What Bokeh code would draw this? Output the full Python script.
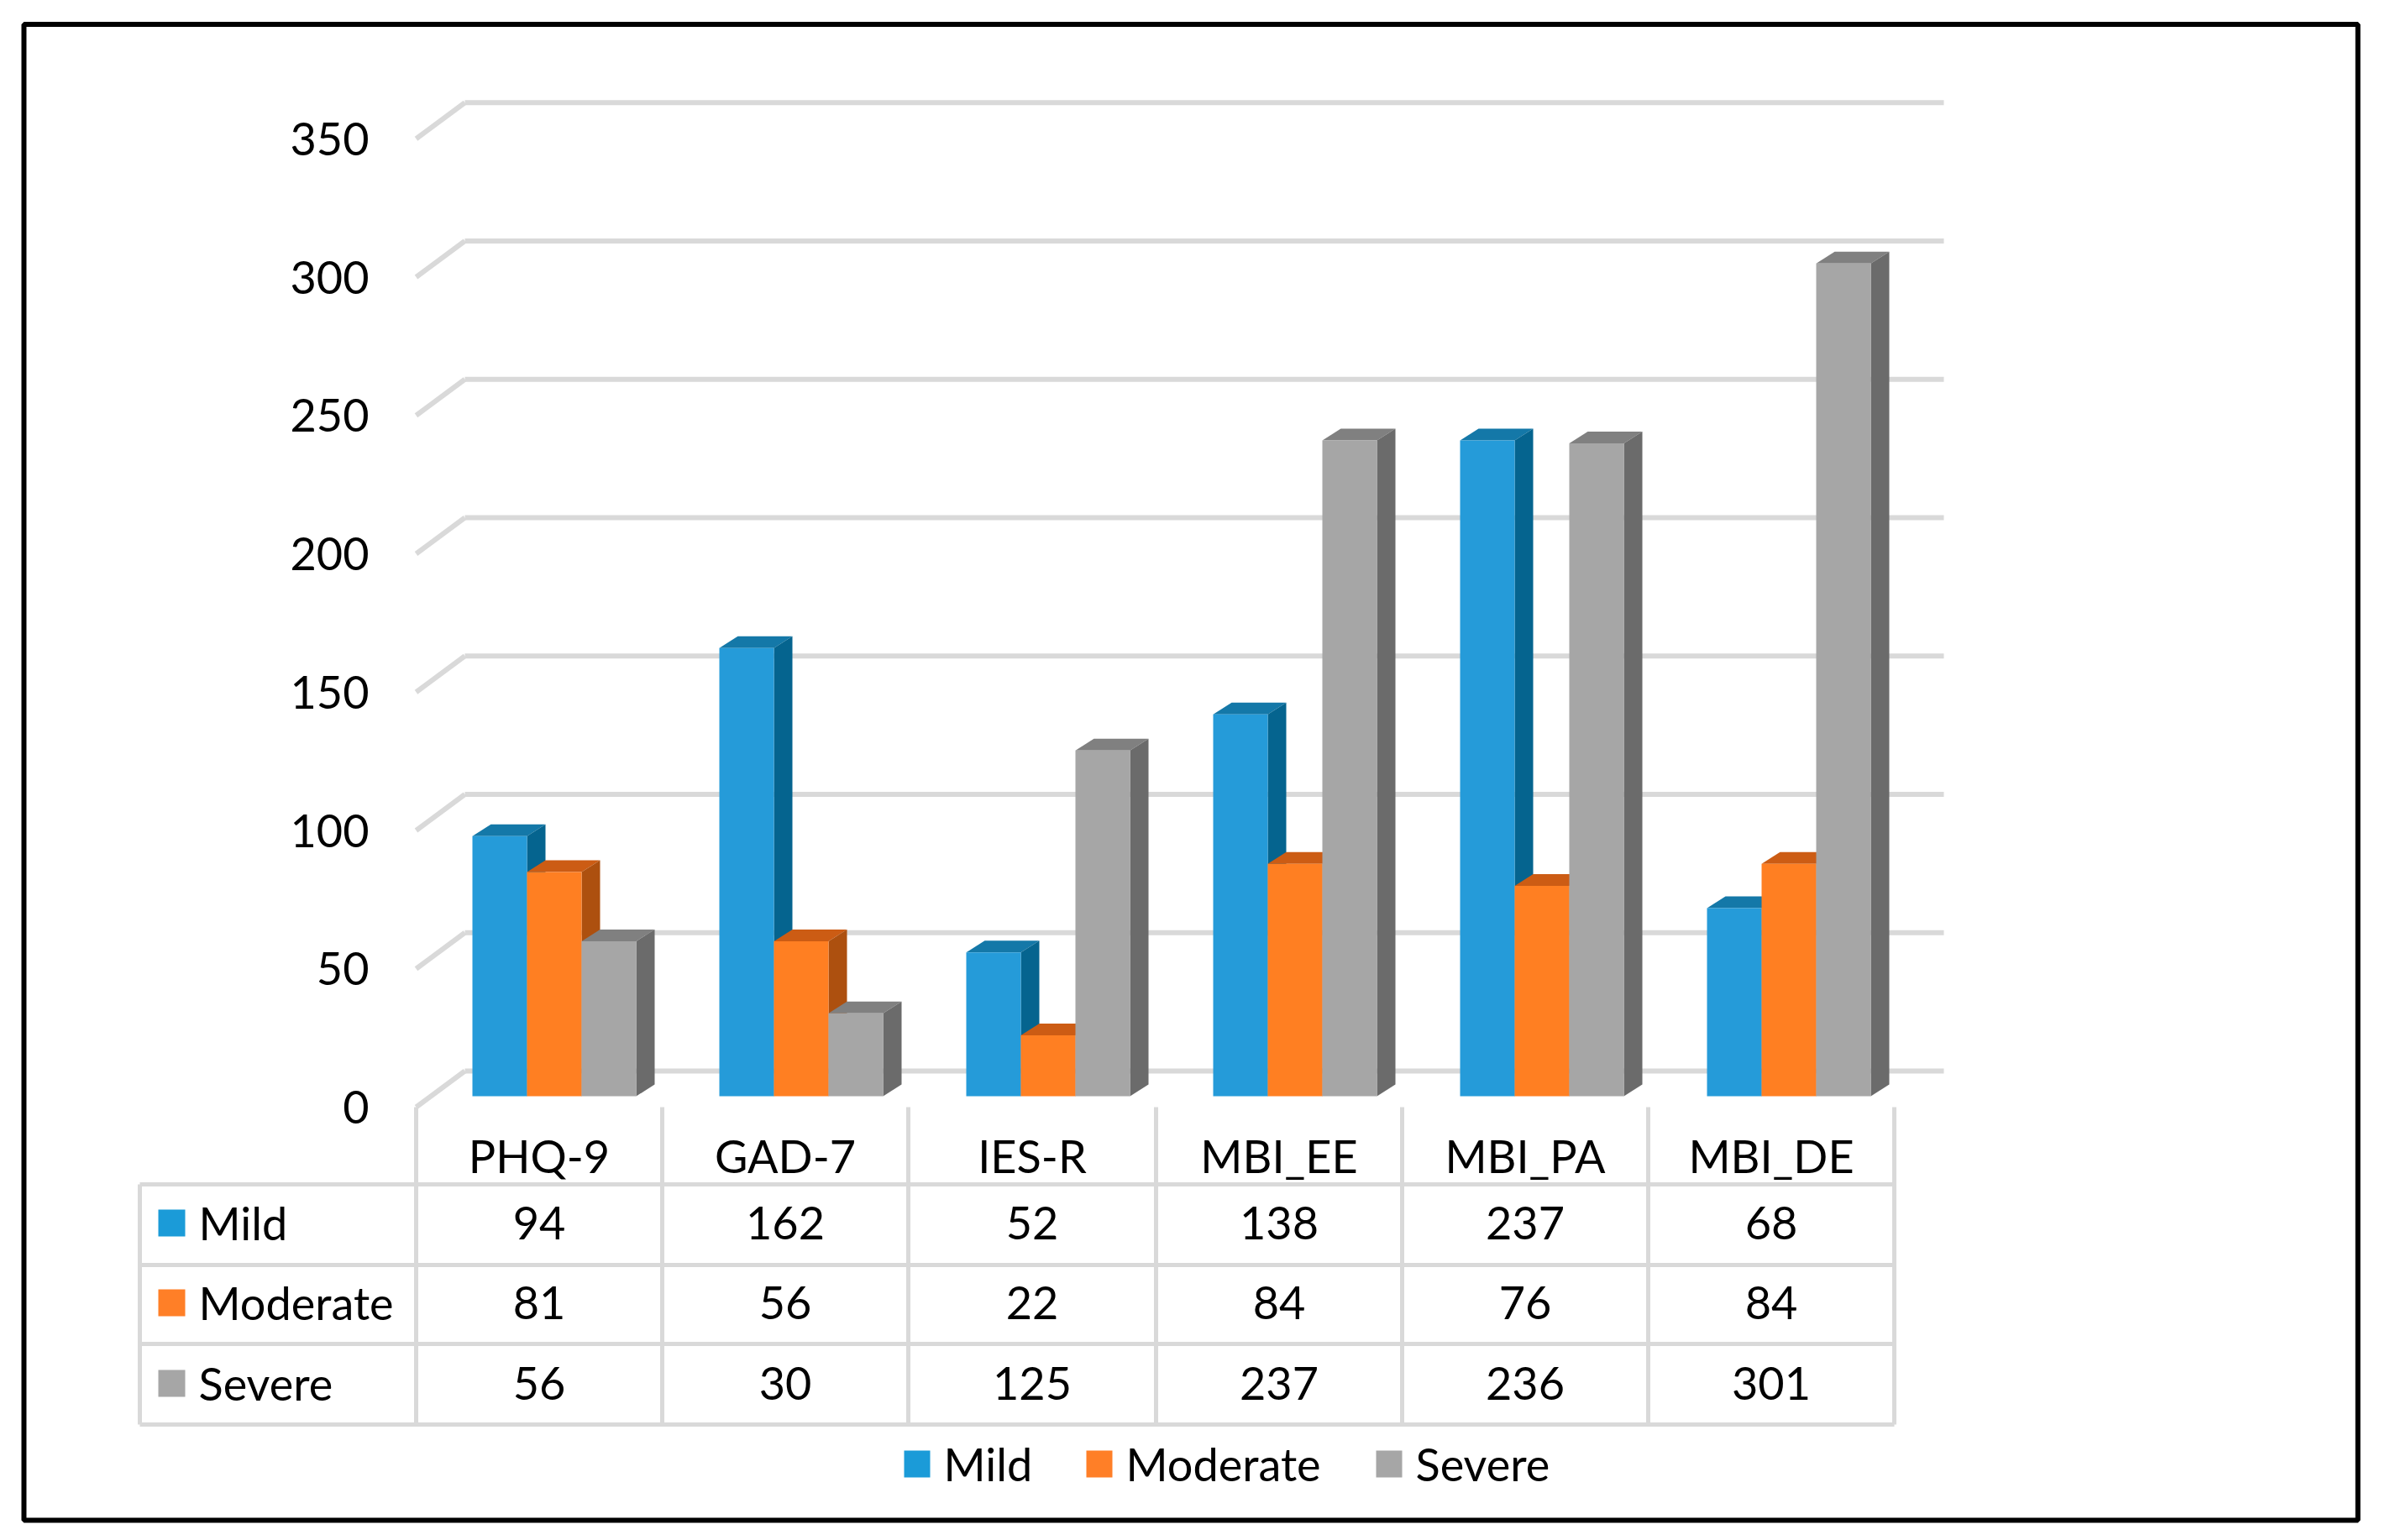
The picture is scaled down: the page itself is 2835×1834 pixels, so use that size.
from bokeh.plotting import figure
from bokeh.models import LinearAxis, Range1d, FixedTicker
from bokeh.core.properties import value
from bokeh.embed import file_html
from bokeh.resources import INLINE

categories = ["PHQ-9", "GAD-7", "IES-R", "MBI_EE", "MBI_PA", "MBI_DE"]
mild = [94, 162, 52, 138, 237, 68]
moderate = [81, 56, 22, 84, 76, 84]
severe = [56, 30, 125, 237, 236, 301]
series_names = ["Mild", "Moderate", "Severe"]
y_ticks = [0, 50, 100, 150, 200, 250, 300, 350]

FONT = value("Lato")
FS = "54px"
GRID = "#D9D9D9"
front = ["#259BD9", "#FF7F22", "#A6A6A6"]
side = ["#05648F", "#AD500F", "#6B6B6B"]
top = ["#1478A8", "#CC5C14", "#808080"]
swatch = ["#1B9BD8", "#FF7F27", "#A6A6A6"]

U = 3.295          # page px per value unit
ZERO = 1305        # page y of bar baseline
WALL_ZERO = 1318   # page y of axis zero
BACK_ZERO = 1275   # page y of back-wall zero
DX, DY = 22, 14
TOP_PAGE, BOT_PAGE = 0, 1818

p = figure(width=2819, height=1818, output_backend="svg", toolbar_location=None,
           x_range=Range1d(0, 2819),
           y_range=Range1d(-(BOT_PAGE - ZERO) / U, (ZERO - TOP_PAGE) / U),
           x_axis_type=None, y_axis_type=None,
           min_border=0, min_border_left=0, min_border_right=0, min_border_top=0, min_border_bottom=0,
           background_fill_color="white", border_fill_color="white", outline_line_color=None)
p.grid.visible = False
p.extra_y_ranges["page"] = Range1d(BOT_PAGE, TOP_PAGE)
p.extra_y_ranges["wall"] = Range1d(-(BOT_PAGE - WALL_ZERO) / U, (WALL_ZERO - TOP_PAGE) / U)

# Outer frame
p.quad(left=[28], right=[2807], top=[28.5], bottom=[1810], fill_color=None,
       line_color="#000000", line_width=6, y_range_name="page")

# Back-wall gridlines and their diagonals
WX0, WX1, WX_FRONT = 553, 2314, 495
back = [t + (ZERO - BACK_ZERO) / U for t in y_ticks]
fr = [t + (ZERO - WALL_ZERO) / U for t in y_ticks]
p.segment(x0=[WX0] * len(back), x1=[WX1] * len(back), y0=back, y1=back,
          line_color=GRID, line_width=6)
p.segment(x0=[WX_FRONT] * len(back), x1=[WX0] * len(back), y0=fr, y1=back,
          line_color=GRID, line_width=6)

# Bars
BAR0, STEP, BW = 562, 294.0, 65.0
for s, vals in enumerate([mild, moderate, severe]):
    ls = [BAR0 + i * STEP + s * BW for i in range(len(vals))]
    rs = [l + BW for l in ls]
    d = DY / U
    p.patches(xs=[[l, r, r + DX, l + DX] for l, r in zip(ls, rs)],
              ys=[[v, v, v + d, v + d] for v in vals],
              fill_color=top[s], line_color=None)
    p.patches(xs=[[r, r + DX, r + DX, r] for r in rs],
              ys=[[0, d, v + d, v] for v in vals],
              fill_color=side[s], line_color=None)
    p.quad(left=ls, right=rs, bottom=[0] * len(vals), top=vals,
           fill_color=front[s], line_color=None)

# Value axis (real axis, fixed in data space)
ax = LinearAxis(y_range_name="wall", fixed_location=455, ticker=FixedTicker(ticks=y_ticks),
                axis_line_color=None, major_tick_line_color=None, minor_tick_line_color=None,
                major_label_standoff=10, major_label_text_font="Lato",
                major_label_text_font_size=FS, major_label_text_color="#000000")
p.add_layout(ax, "left")

# Data table
COLX = [495, 788, 1081, 1376, 1669, 1962, 2255]
ROWY = [1410, 1506, 1600, 1696]
TLEFT = 166
p.segment(x0=COLX, x1=COLX, y0=[1318] * len(COLX), y1=[ROWY[-1]] * len(COLX),
          line_color=GRID, line_width=5, y_range_name="page")
p.segment(x0=[TLEFT], x1=[TLEFT], y0=[ROWY[0]], y1=[ROWY[-1]],
          line_color=GRID, line_width=5, y_range_name="page")
p.segment(x0=[TLEFT] * len(ROWY), x1=[COLX[-1]] * len(ROWY), y0=ROWY, y1=ROWY,
          line_color=GRID, line_width=5, y_range_name="page")

centers = [(COLX[i] + COLX[i + 1]) / 2 for i in range(len(categories))]
p.text(x=centers, y=[1376] * len(categories), text=categories, text_font=FONT,
       text_font_size=FS, text_align="center", text_baseline="middle",
       text_color="#000000", y_range_name="page")
rows_y = [1456, 1551, 1647]
for s, vals in enumerate([mild, moderate, severe]):
    p.quad(left=[188], right=[220], top=[rows_y[s] - 16], bottom=[rows_y[s] + 16],
           fill_color=swatch[s], line_color=None, y_range_name="page")
    p.text(x=[236], y=[rows_y[s]], text=[series_names[s]], text_font=FONT, text_font_size=FS,
           text_align="left", text_baseline="middle", text_color="#000000", y_range_name="page")
    p.text(x=centers, y=[rows_y[s]] * len(vals), text=[str(v) for v in vals], text_font=FONT,
           text_font_size=FS, text_align="center", text_baseline="middle",
           text_color="#000000", y_range_name="page")

# Legend
LEG_SW = [1076, 1293, 1638]
LEG_TX = [1123, 1340, 1685]
LEG_Y = 1743
for s in range(3):
    p.quad(left=[LEG_SW[s]], right=[LEG_SW[s] + 31], top=[LEG_Y - 16], bottom=[LEG_Y + 16],
           fill_color=swatch[s], line_color=None, y_range_name="page")
    p.text(x=[LEG_TX[s]], y=[LEG_Y], text=[series_names[s]], text_font=FONT, text_font_size=FS,
           text_align="left", text_baseline="middle", text_color="#000000", y_range_name="page")

open("out.html", "w").write(file_html(p, INLINE))
